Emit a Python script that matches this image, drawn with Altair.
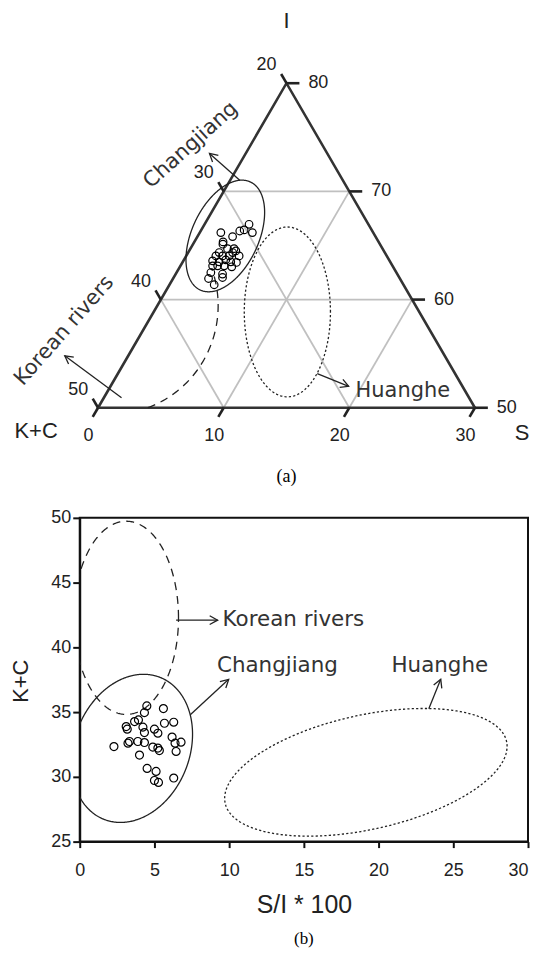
import math
import numpy as np
import pandas as pd
import altair as alt

# ================= (a) ternary diagram =================
# sample compositions (%): S, I  (K+C = 100 - S - I)
tern_S = [3.54, 4.19, 3.41, 3.11, 1.68, 2.80, 2.29, 2.38, 2.95, 3.47, 3.72, 3.54, 4.21, 2.89, 2.36,
          2.33, 2.89, 3.33, 3.82, 4.30, 2.56, 2.96, 3.48, 4.13, 2.73, 3.73, 2.82, 3.89, 3.56, 3.42, 2.47]
tern_I = [66.96, 66.19, 66.44, 66.34, 66.19, 65.82, 65.33, 65.12, 64.71, 64.71, 64.50, 64.35, 64.04, 64.04, 64.04,
          63.58, 63.49, 63.67, 63.49, 63.43, 63.12, 63.12, 63.12, 63.03, 62.50, 62.36, 61.95, 62.04, 61.37, 64.04, 64.35]

tick_S = [0, 10, 20, 30]
tick_I = [50, 60, 70, 80]
tick_KC = [20, 30, 40, 50]
grid_S = [10, 20]
grid_I = [60, 70]
grid_KC = [30, 40]

# source fields in the plot frame (u = S + (I-50)/2, I)
tern_fields = ["Changjiang", "Korean rivers", "Huanghe"]
tern_cu = [10.13, 1.05, 15.07]
tern_cI = [65.88, 59.44, 58.86]
tern_ru = [3.13, 8.51, 3.43]
tern_rI = [5.16, 10.04, 7.85]
tern_skew = [25, 0, 0]
tern_t0 = [0, -75, 0]
tern_t1 = [360, 20, 360]

tern_arrow_u0 = [11.28, 1.87, 17.45]
tern_arrow_I0 = [71.03, 50.93, 53.15]
tern_arrow_u1 = [8.87, -2.65, 19.95]
tern_arrow_I1 = [73.51, 54.80, 51.98]
tern_label_u = [7.38, -2.69, 24.26]
tern_label_I = [74.28, 57.12, 51.55]
tern_label_angle = [318, 311.5, 0]

# ================= (b) K+C vs S/I*100 =================
b_x = [4.49, 5.60, 4.33, 3.93, 3.67, 3.11, 3.18, 4.23, 5.00, 5.67, 6.29, 4.33, 5.23, 3.33, 3.89,
       4.33, 2.29, 3.23, 4.89, 5.23, 5.33, 6.18, 6.78, 6.38, 6.45, 4.00, 4.51, 5.11, 5.00, 5.27, 6.29]
b_y = [35.48, 35.27, 34.96, 34.40, 34.27, 33.88, 33.68, 33.84, 33.68, 34.14, 34.22, 33.42, 33.37, 32.73, 32.73,
       32.65, 32.34, 32.60, 32.30, 32.22, 32.03, 33.07, 32.68, 32.60, 31.96, 31.68, 30.65, 30.42, 29.72, 29.57, 29.91]

b_fields = ["Korean rivers", "Changjiang", "Huanghe"]
b_cx = [3.11, 3.5, 19.15]
b_cy = [42.28, 32.2, 30.35]
b_rx = [3.5, 4.05, 9.45]
b_ry = [7.46, 5.72, 4.93]
b_skew = [0, 11, 24]
b_arrow_x0 = [6.45, 7.4, 23.36]
b_arrow_y0 = [42.1, 34.8, 35.26]
b_arrow_x1 = [9.23, 9.97, 24.16]
b_arrow_y1 = [42.1, 37.53, 37.53]
b_label_x = [9.56, 13.23, 24.1]
b_label_y = [42.1, 38.55, 38.55]
b_label_align = ["left", "center", "center"]

x_ticks = [0, 5, 10, 15, 20, 25, 30]
y_ticks = [25, 30, 35, 40, 45, 50]

# ---------------- styles ----------------
DASH = {"Changjiang": [1, 0], "Korean rivers": [8, 6], "Huanghe": [2.2, 2.2]}
INK = "#222222"
ARROW_SHAPE = "M-1,-0.55L0,0L-1,0.55"
ANNOT_FONT = "DejaVu Sans"
TICK_FONT = "Liberation Sans"

PXU = 12.61
W1, H1 = 451, 482
U_DOM = [-1.459, -1.459 + W1 / PXU]
I_DOM = [42.403, 86.786]
W2, H2 = 450, 325
X_DOM = [0, 30]
Y_DOM = [25, 50]
LEFT_ROOM = 70.0   # px left of the plot origin reserved for labels


def tu(S, I):
    return S + (I - 50) / 2.0


def ellipse(name, cx, cy, rx, ry, skew, t0, t1, xn, yn):
    t = np.radians(np.arange(t0, t1 + 0.5, 1.0))
    return pd.DataFrame({"field": name, "k": np.arange(len(t)),
                         xn: cx + rx * np.cos(t),
                         yn: cy + ry * np.sin(t + math.radians(skew))})


def angles(x0, y0, x1, y1, px, py):
    return [math.degrees(math.atan2(-(b1 - b0) * py, (a1 - a0) * px)) % 360
            for a0, b0, a1, b1 in zip(x0, y0, x1, y1)]


# ---------- top chart encodings ----------
def TX(f="u"):
    return alt.X(f"{f}:Q", scale=alt.Scale(domain=U_DOM, nice=False, zero=False), axis=None)


def TY(f="I"):
    return alt.Y(f"{f}:Q", scale=alt.Scale(domain=I_DOM, nice=False, zero=False), axis=None)


pxu = W1 / (U_DOM[1] - U_DOM[0])
pxi = H1 / (I_DOM[1] - I_DOM[0])

tri = pd.DataFrame({"k": [0, 1, 2, 3],
                    "u": [tu(0, 50), tu(30, 50), tu(0, 80), tu(0, 50)],
                    "I": [50, 50, 80, 50]})

segs = []
for v in grid_I:
    segs.append((tu(0, v), v, tu(80 - v, v), v))
for v in grid_S:
    segs.append((tu(v, 50), 50, tu(v, 80 - v), 80 - v))
for v in grid_KC:
    segs.append((tu(0, 100 - v), 100 - v, tu(50 - v, 50), 50))
grid = pd.DataFrame(segs, columns=["u", "I", "u2", "I2"])

D = 0.85
tk = []
for v in tick_S:
    tk.append((tu(v, 50), 50, tu(v, 50) - D / 2, 50 - D))
for v in tick_I:
    tk.append((tu(80 - v, v), v, tu(80 - v, v) + 1.03, v))
for v in tick_KC:
    tk.append((tu(0, 100 - v), 100 - v, tu(0, 100 - v) - D / 2, 100 - v + D))
ticks = pd.DataFrame(tk, columns=["u", "I", "u2", "I2"])

lab_S = pd.DataFrame({"u": [tu(v, 50) for v in tick_S], "I": 50, "t": [str(v) for v in tick_S]})
lab_I = pd.DataFrame({"u": [tu(80 - v, v) for v in tick_I], "I": tick_I, "t": [str(v) for v in tick_I]})
lab_KC = pd.DataFrame({"u": [tu(0, 100 - v) for v in tick_KC], "I": [100 - v for v in tick_KC],
                       "t": [str(v) for v in tick_KC]})

pts_top = pd.DataFrame({"u": [tu(s, i) for s, i in zip(tern_S, tern_I)], "I": tern_I})

top_layers = []
top_layers.append(alt.Chart(grid).mark_rule(color="#c0c0c0", strokeWidth=1.8).encode(
    x=TX(), y=TY(), x2="u2:Q", y2="I2:Q"))
top_layers.append(alt.Chart(tri).mark_line(color="#333333", strokeWidth=2.6).encode(
    x=TX(), y=TY(), order="k:Q"))

for i, name in enumerate(tern_fields):
    e = ellipse(name, tern_cu[i], tern_cI[i], tern_ru[i], tern_rI[i], tern_skew[i],
                tern_t0[i], tern_t1[i], "u", "I")
    if name != "Changjiang":
        e = e[(e["I"] >= 50) & (e["u"] - (e["I"] - 50) / 2 >= 0)]
    top_layers.append(alt.Chart(e).mark_line(color=INK, strokeWidth=1.3, strokeDash=DASH[name]).encode(
        x=TX(), y=TY(), order="k:Q"))

top_layers.append(alt.Chart(pts_top).mark_point(shape="circle", filled=False, size=58, color="black",
                                                strokeWidth=1.2, opacity=1).encode(x=TX(), y=TY()))

t_arr = pd.DataFrame({"u": tern_arrow_u0, "I": tern_arrow_I0, "u2": tern_arrow_u1, "I2": tern_arrow_I1,
                      "ang": angles(tern_arrow_u0, tern_arrow_I0, tern_arrow_u1, tern_arrow_I1, pxu, pxi)})
top_layers.append(alt.Chart(t_arr).mark_rule(color=INK, strokeWidth=1.3).encode(
    x=TX(), y=TY(), x2="u2:Q", y2="I2:Q"))
top_layers.append(alt.Chart(t_arr).mark_point(shape=ARROW_SHAPE, filled=False, size=256, color=INK,
                                              strokeWidth=1.3, opacity=1).encode(
    x=TX("u2"), y=TY("I2"), angle=alt.Angle("ang:Q", scale=None)))

top_layers.append(alt.Chart(ticks).mark_rule(color=INK, strokeWidth=2.6).encode(
    x=TX(), y=TY(), x2="u2:Q", y2="I2:Q"))

tick_txt = dict(font=TICK_FONT, fontSize=18, color=INK, baseline="middle", align="center")
top_layers.append(alt.Chart(lab_S).mark_text(dx=-9.5, dy=28.5, **tick_txt).encode(x=TX(), y=TY(), text="t:N"))
top_layers.append(alt.Chart(lab_I).mark_text(dx=32, dy=0, **tick_txt).encode(x=TX(), y=TY(), text="t:N"))
top_layers.append(alt.Chart(lab_KC).mark_text(dx=-20, dy=-18, **tick_txt).encode(x=TX(), y=TY(), text="t:N"))

t_lbl = pd.DataFrame({"u": tern_label_u, "I": tern_label_I, "t": tern_fields, "ang": tern_label_angle})
top_layers.append(alt.Chart(t_lbl).mark_text(font=ANNOT_FONT, fontSize=21, color="#333333",
                                             baseline="middle", align="center").encode(
    x=TX(), y=TY(), text="t:N", angle=alt.Angle("ang:Q", scale=None)))

corner = pd.DataFrame({"u": [15.0, -4.93, 33.75], "I": [85.75, 47.84, 47.65], "t": ["I", "K+C", "S"]})
top_layers.append(alt.Chart(corner).mark_text(font=TICK_FONT, fontSize=22, color=INK,
                                              baseline="middle", align="center").encode(
    x=TX(), y=TY(), text="t:N"))

cap_a = pd.DataFrame({"u": [15.0], "I": [43.6], "t": ["(a)"]})
top_layers.append(alt.Chart(cap_a).mark_text(font="Liberation Serif", fontSize=18, color="black",
                                             baseline="middle", align="center").encode(
    x=TX(), y=TY(), text="t:N"))

# invisible left anchor (fixes the room kept left of both panels)
anchor_u = U_DOM[0] - LEFT_ROOM / pxu
anchor = pd.DataFrame({"u": [anchor_u], "I": [70.0], "u2": [anchor_u + 0.01], "I2": [70.5]})
top_layers.append(alt.Chart(anchor).mark_rule(strokeOpacity=0, strokeWidth=0.1).encode(
    x=TX(), y=TY(), x2="u2:Q", y2="I2:Q"))

top = alt.layer(*top_layers).properties(width=W1, height=H1,
                                        view=alt.ViewBackground(strokeOpacity=0))

# ---------- bottom chart ----------
x_axis = alt.Axis(values=x_ticks, title="S/I * 100", grid=False, tickSize=6, tickWidth=2,
                  tickColor="#111111", domainColor="#111111", domainWidth=2, labelFlush=False,
                  labelAlign={"expr": "datum.value == 30 ? 'right' : 'center'"},
                  labelFont=TICK_FONT, labelFontSize=18, labelPadding=14, labelColor=INK,
                  titleFont=TICK_FONT, titleFontSize=25, titleFontWeight="normal", titleColor=INK,
                  titleY=71, titleBaseline="alphabetic")
y_axis = alt.Axis(values=y_ticks, title="K+C", grid=False, tickSize=7, tickWidth=2,
                  tickColor="#111111", domainColor="#111111", domainWidth=2, labelFlush=False,
                  labelFont=TICK_FONT, labelFontSize=18, labelPadding=2, labelColor=INK,
                  titleFont=TICK_FONT, titleFontSize=22, titleFontWeight="normal", titleColor=INK,
                  titleX=-52.4, titleY=163.5, titleBaseline="alphabetic", titleAngle=270)


def BX(f="x"):
    return alt.X(f"{f}:Q", scale=alt.Scale(domain=X_DOM, nice=False, zero=False), axis=x_axis)


def BY(f="y"):
    return alt.Y(f"{f}:Q", scale=alt.Scale(domain=Y_DOM, nice=False, zero=False), axis=y_axis)


pbx = W2 / (X_DOM[1] - X_DOM[0])
pby = H2 / (Y_DOM[1] - Y_DOM[0])

bot_layers = []
for i, name in enumerate(b_fields):
    e = ellipse(name, b_cx[i], b_cy[i], b_rx[i], b_ry[i], b_skew[i], 0, 360, "x", "y")
    bot_layers.append(alt.Chart(e).mark_line(color=INK, strokeWidth=1.3, strokeDash=DASH[name],
                                             clip=True).encode(x=BX(), y=BY(), order="k:Q"))

pts_bot = pd.DataFrame({"x": b_x, "y": b_y})
bot_layers.append(alt.Chart(pts_bot).mark_point(shape="circle", filled=False, size=64, color="black",
                                                strokeWidth=1.2, opacity=1).encode(x=BX(), y=BY()))

b_arr = pd.DataFrame({"x": b_arrow_x0, "y": b_arrow_y0, "x2": b_arrow_x1, "y2": b_arrow_y1,
                      "ang": angles(b_arrow_x0, b_arrow_y0, b_arrow_x1, b_arrow_y1, pbx, pby)})
bot_layers.append(alt.Chart(b_arr).mark_rule(color=INK, strokeWidth=1.3).encode(
    x=BX(), y=BY(), x2="x2:Q", y2="y2:Q"))
bot_layers.append(alt.Chart(b_arr).mark_point(shape=ARROW_SHAPE, filled=False, size=256, color=INK,
                                              strokeWidth=1.3, opacity=1).encode(
    x=BX("x2"), y=BY("y2"), angle=alt.Angle("ang:Q", scale=None)))

for i, name in enumerate(b_fields):
    d = pd.DataFrame({"x": [b_label_x[i]], "y": [b_label_y[i]], "t": [name]})
    bot_layers.append(alt.Chart(d).mark_text(font=ANNOT_FONT, fontSize=21.5, color="#333333",
                                             baseline="middle", align=b_label_align[i]).encode(
        x=BX(), y=BY(), text="t:N"))

cap_b = pd.DataFrame({"x": [15.0], "y": [17.46], "t": ["(b)"]})
bot_layers.append(alt.Chart(cap_b).mark_text(font="Liberation Serif", fontSize=17, color="black",
                                             baseline="middle", align="center").encode(
    x=BX(), y=BY(), text="t:N"))

bottom = alt.layer(*bot_layers).properties(width=W2, height=H2,
                                           view=alt.ViewBackground(stroke="#111111", strokeWidth=2))

chart = alt.vconcat(top, bottom, spacing=18).properties(padding=0, background="white")
chart.save("out.html", embed_options={"renderer": "svg", "actions": False})
